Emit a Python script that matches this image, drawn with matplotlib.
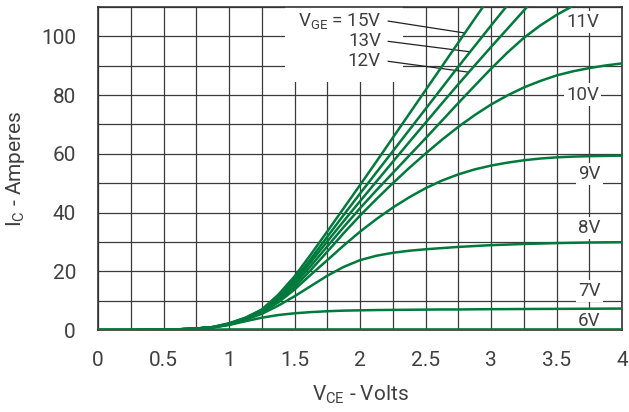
import numpy as np
import matplotlib
matplotlib.use("Agg")
import matplotlib.pyplot as plt
from matplotlib.ticker import MultipleLocator, FuncFormatter
from matplotlib.patches import Rectangle

nan = np.nan

# V_CE (volts)
vce = [0, 0.25, 0.5, 0.625, 0.75, 0.875, 1.0, 1.125, 1.25, 1.375, 1.5,
       1.625, 1.75, 1.875, 2.0, 2.125, 2.25, 2.375, 2.5, 2.625, 2.75,
       2.875, 3.0, 3.125, 3.25, 3.375, 3.5, 3.625, 3.75, 3.875, 4.0]

# I_C (amperes) for each V_GE
ic_15v = [0, 0, 0.1, 0.25, 0.5, 1.0, 2.3, 4.2, 7.0, 12.0, 18.3,
          25.8, 33.6, 41.5, 49.4, 57.4, 65.5, 73.6, 81.7, 89.8, 97.9,
          106.0, 114.0, nan, nan, nan, nan, nan, nan, nan, nan]
ic_13v = [0, 0, 0.1, 0.25, 0.5, 1.0, 2.2, 4.1, 6.8, 11.4, 17.3,
          24.3, 31.8, 39.2, 46.5, 53.7, 60.9, 68.1, 75.3, 82.5, 89.7,
          96.7, 103.7, 110.6, 117.5, nan, nan, nan, nan, nan, nan]
ic_12v = [0, 0, 0.1, 0.25, 0.5, 1.0, 2.1, 4.0, 6.6, 11.0, 16.6,
          23.2, 30.2, 37.1, 43.9, 50.6, 57.3, 64.0, 70.6, 77.2, 83.7,
          90.1, 96.4, 102.6, 108.8, 115.0, nan, nan, nan, nan, nan]
ic_11v = [0, 0, 0.1, 0.25, 0.5, 0.95, 2.0, 3.9, 6.4, 10.5, 15.7,
          21.9, 28.5, 35.1, 41.5, 47.6, 53.5, 59.4, 65.3, 71.3, 77.3,
          83.2, 89.0, 94.5, 99.5, 103.7, 107.3, 110.4, 113.0, nan, nan]
ic_10v = [0, 0, 0.1, 0.25, 0.5, 0.95, 2.0, 3.8, 6.2, 9.9, 14.7,
          20.5, 26.7, 33.0, 39.0, 44.6, 50.0, 55.2, 60.1, 64.8, 69.2,
          73.2, 76.8, 79.9, 82.6, 84.8, 86.7, 88.1, 89.2, 90.1, 90.8]
ic_9v = [0, 0, 0.1, 0.25, 0.5, 0.9, 1.9, 3.7, 6.0, 9.4, 13.8,
         18.9, 23.8, 28.8, 33.5, 37.8, 41.7, 45.2, 48.3, 50.9, 53.0,
         54.7, 56.0, 57.0, 57.8, 58.4, 58.8, 59.05, 59.2, 59.3, 59.4]
ic_8v = [0, 0, 0.1, 0.25, 0.5, 0.9, 1.9, 3.5, 5.5, 8.3, 11.5,
         15.0, 18.5, 21.5, 23.8, 25.3, 26.3, 27.0, 27.5, 27.9, 28.3,
         28.6, 28.9, 29.1, 29.3, 29.45, 29.6, 29.7, 29.8, 29.85, 29.9]
ic_7v = [0, 0, 0.1, 0.25, 0.45, 0.85, 1.7, 3.0, 4.2, 5.1, 5.7,
         6.1, 6.4, 6.6, 6.7, 6.8, 6.85, 6.9, 6.95, 7.0, 7.0,
         7.05, 7.1, 7.12, 7.15, 7.18, 7.2, 7.22, 7.25, 7.28, 7.3]
ic_6v = [0, 0, 0, 0.05, 0.1, 0.15, 0.2, 0.2, 0.2, 0.2, 0.2,
         0.2, 0.2, 0.2, 0.2, 0.2, 0.2, 0.2, 0.2, 0.2, 0.2,
         0.2, 0.2, 0.2, 0.2, 0.2, 0.2, 0.2, 0.2, 0.2, 0.2]

krivulje = [ic_15v, ic_13v, ic_12v, ic_11v, ic_10v, ic_9v, ic_8v, ic_7v, ic_6v]

# labels on the right side (text, x, y)
desne_oznake = [("11V", 3.70, 105.0), ("10V", 3.70, 80.2), ("9V", 3.75, 53.2),
                ("8V", 3.75, 34.7), ("7V", 3.75, 13.4), ("6V", 3.75, 3.1)]

zelena = "#00793c"
tekst = "#404040"
plt.rcParams['font.family'] = ['Roboto', 'DejaVu Sans']
plt.rcParams['mathtext.default'] = 'regular'

fig = plt.figure(figsize=(6.29, 4.12), dpi=100)
ax = fig.add_axes([0.156, 0.199, 0.989 - 0.156, 0.983 - 0.199])

for ic in krivulje:
    ax.plot(vce, ic, color=zelena, lw=1.8, zorder=3)

ax.set_xlim(0, 4)
ax.set_ylim(0, 110)
ax.xaxis.set_major_locator(MultipleLocator(0.5))
ax.xaxis.set_minor_locator(MultipleLocator(0.25))
ax.yaxis.set_major_locator(MultipleLocator(20))
ax.yaxis.set_minor_locator(MultipleLocator(10))
ax.xaxis.set_major_formatter(FuncFormatter(lambda v, p: "%g" % v))
ax.set_axisbelow(True)
ax.grid(which='both', color='#3a3a3a', lw=0.9)
ax.tick_params(which='both', length=0, labelsize=15, colors=tekst)
ax.tick_params(axis='x', pad=15)
ax.tick_params(axis='y', pad=16)
for s in ax.spines.values():
    s.set_color('#333333')
    s.set_linewidth(1.2)

# white area behind the V_GE labels
ax.add_patch(Rectangle((1.43, 84.3), 0.9, 26, facecolor='white',
                       edgecolor='none', zorder=1))

lijeve = [(r"$V_{GE}$ = 15V", 105.2, ic_15v, 2.80),
          ("13V", 98.3, ic_13v, 2.84),
          ("12V", 91.5, ic_12v, 2.83)]
for txt, y, ic, xk in lijeve:
    ax.text(2.16, y, txt, ha='right', va='center', fontsize=13.5, color=tekst,
            zorder=4)
    yk = np.interp(xk, vce, ic)
    ax.plot([2.215, xk], [y, yk], color='#222222', lw=0.9, zorder=2.5)

for txt, x, y in desne_oznake:
    ax.text(x, y, txt, ha='center', va='center', fontsize=13.5, color=tekst,
            zorder=2, bbox=dict(facecolor='white', edgecolor='none', pad=1.5))

ax.set_xlabel(r"$V_{CE}$ - Volts", fontsize=15, color=tekst, labelpad=10)
ax.set_ylabel(r"$I_{C}$ - Amperes", fontsize=15, color=tekst, labelpad=10)

fig.savefig("out.png", dpi=100)
